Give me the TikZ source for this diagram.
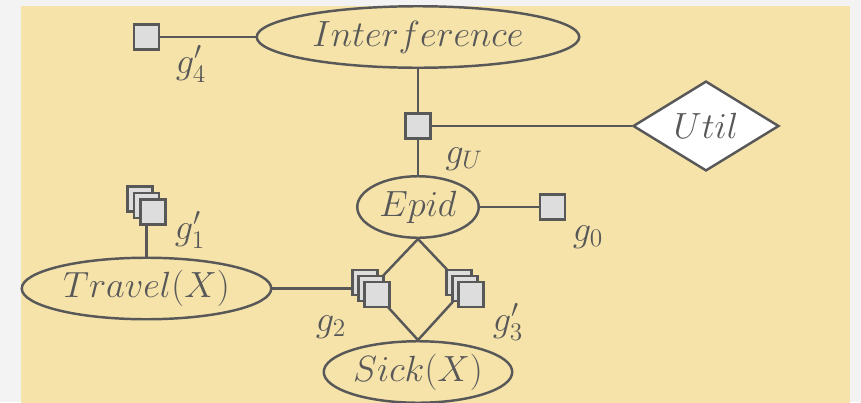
\documentclass[tikz,border=0pt]{standalone}
\usepackage{xcolor}
\usetikzlibrary{shapes.geometric, positioning}
\definecolor{tanbg}{RGB}{246,227,170}
\definecolor{pagegray}{RGB}{243,243,243}
\definecolor{linegray}{RGB}{88,88,88}
\definecolor{factorgray}{RGB}{221,221,221}
\pgfdeclarelayer{background}
\pgfdeclarelayer{edges}
\pgfsetlayers{background,edges,main}

\begin{document}
\begin{tikzpicture}[
        var/.style={ellipse, draw=linegray, line width=1.4pt, inner sep=0pt, minimum height=1.23cm, text=linegray, font=\huge},
        utility/.style={diamond, draw=linegray, fill=white, line width=1.4pt, inner sep=0pt, minimum width=2.92cm, minimum height=1.76cm, text=linegray, font=\huge},
        factor/.style={rectangle, draw=linegray, fill=factorgray, line width=1.4pt, minimum size=0.5cm, inner sep=0pt},
        flabel/.style={text=linegray, inner sep=0pt, font=\huge},
        edge/.style={draw=linegray, line width=1.4pt, line join=round}
    ]
        \useasboundingbox (0,0) rectangle (17.22,8.04);
        \begin{pgfonlayer}{background}
            \fill[pagegray] (0,0) rectangle (17.22,8.04);
            \fill[tanbg] (0.42,-0.2) rectangle (17.0,7.92);
        \end{pgfonlayer}

        % Variables
        \node[var, minimum width=6.45cm] (interference) at (8.36, 7.30) {$Interference$};
        \node[var, minimum width=2.43cm] (epid) at (8.36, 3.90) {$Epid$};
        \node[var, minimum width=4.99cm] (travel) at (2.93, 2.27) {$Travel(X)$};
        \node[var, minimum width=3.77cm] (sick) at (8.36, 0.60) {$Sick(X)$};
        \node[utility] (util) at (14.12, 5.52) {$Util$};

        % Single factors
        \node[factor] (g4) at (2.93, 7.30) {};
        \node[factor] (gU) at (8.36, 5.52) {};
        \node[factor] (g0) at (11.05, 3.90) {};

        % Parfactors: three stacked copies each
        \foreach \n/\x/\y/\s in {g1/2.93/3.93/0.13, g2/7.42/2.27/0.12, g3/9.30/2.27/0.12} {
            \node[factor] (\n back) at ({\x-\s}, {\y+\s}) {};
            \node[factor] (\n) at (\x, \y) {};
            \node[factor] (\n front) at ({\x+\s}, {\y-\s}) {};
        }

        % Factor labels
        \node[flabel] (lg4) at (3.82, 6.76) {$g'_4$};
        \node[flabel] (lgU) at (9.28, 4.86) {$g_U$};
        \node[flabel] (lg0) at (11.76, 3.30) {$g_0$};
        \node[flabel] (lg1) at (3.80, 3.44) {$g'_1$};
        \node[flabel] (lg2) at (6.62, 1.50) {$g_2$};
        \node[flabel] (lg3) at (10.16, 1.60) {$g'_3$};

        % Edges
        \begin{pgfonlayer}{edges}
            \draw[edge] (g4) -- (interference);
            \draw[edge] (interference) -- (gU) -- (epid);
            \draw[edge] (gU) -- (util);
            \draw[edge] (epid) -- (g0);
            \draw[edge] (g1) -- (travel);
            \draw[edge] (travel) -- (g2.center);
            \draw[edge] (epid.south) -- (g2.center) -- (sick.north) -- (g3.center) -- cycle;
        \end{pgfonlayer}

    \end{tikzpicture}
\end{document}
